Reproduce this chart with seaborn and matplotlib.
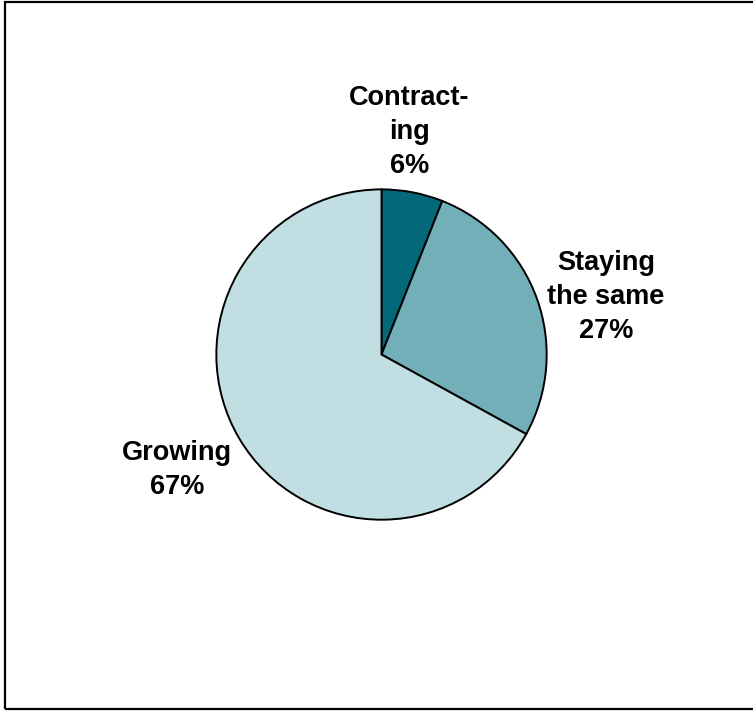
import seaborn as sns
import matplotlib.pyplot as plt
from matplotlib.patches import Rectangle

categories = ["Contracting", "Staying the same", "Growing"]
label_text = ["Contract-\ning", "Staying\nthe same", "Growing"]
shares = [6, 27, 67]
colors = ["#03687A", "#72AFB8", "#C1DEE2"]

# label centres in pie-radius units (x, y)
label_pos = [(0.17, 1.35), (1.36, 0.35), (-1.24, -0.70)]

sns.set_theme(style="white")
plt.rcParams["font.family"] = ["Liberation Sans", "DejaVu Sans"]

fig = plt.figure(figsize=(7.53, 7.11), dpi=100)
ax = fig.add_axes([0.2862, 0.2679, 0.4409, 0.4669])

wedges, _ = ax.pie(
    shares,
    colors=colors,
    startangle=90,
    counterclock=False,
    radius=1,
    wedgeprops={"edgecolor": "black", "linewidth": 1.4},
)
ax.set_xlim(-1.005, 1.005)
ax.set_ylim(-1.005, 1.005)
ax.set_aspect("equal")
ax.axis("off")

for txt, val, (x, y) in zip(label_text, shares, label_pos):
    ax.text(x, y, f"{txt}\n{val}%", ha="center", va="center",
            fontsize=19.5, fontweight="bold", color="black",
            linespacing=1.4, clip_on=False)

fig.patches.append(Rectangle((5 / 753, 2 / 711), 1.0, 707 / 711,
                             transform=fig.transFigure, fill=False,
                             edgecolor="black", linewidth=1.6))

fig.savefig("out.png", dpi=100)
